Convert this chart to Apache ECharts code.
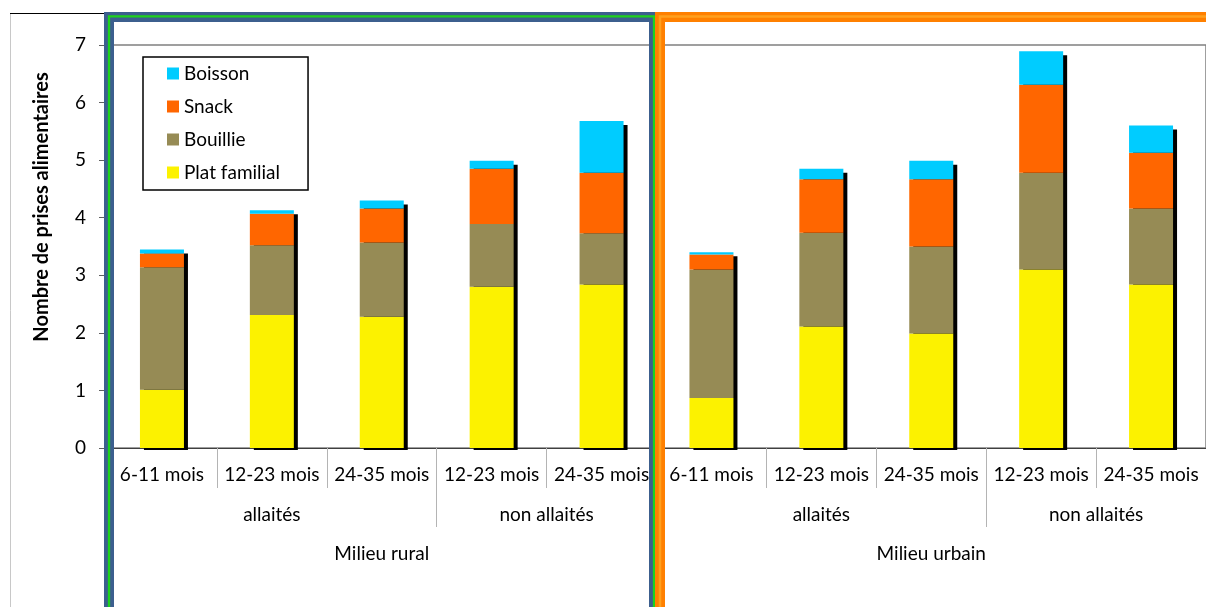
<!DOCTYPE html>
<html>
<head>
<meta charset="utf-8">
<script src="https://cdn.jsdelivr.net/npm/echarts@6/dist/echarts.min.js"></script>
<style>
  html, body { margin: 0; padding: 0; background: #fff; }
  #chart { width: 1206px; height: 607px; }
</style>
</head>
<body>
<div id="chart"></div>
<script>
// Age classes, one per bar
const categories = ['6-11 mois', '12-23 mois', '24-35 mois', '12-23 mois', '24-35 mois',
                    '6-11 mois', '12-23 mois', '24-35 mois', '12-23 mois', '24-35 mois'];
// Breastfeeding groups and their number of bars
const groupLabels = ['allaités', 'non allaités', 'allaités', 'non allaités'];
const groupSizes = [3, 2, 3, 2];
// Living area groups and their number of bars
const areaLabels = ['Milieu rural', 'Milieu urbain'];
const areaSizes = [5, 5];

// Mean number of food intakes per type (stacked from bottom to top)
const platFamilial = [1.01, 2.31, 2.28, 2.80, 2.84, 0.87, 2.11, 1.99, 3.10, 2.84];
const bouillie     = [2.13, 1.21, 1.29, 1.09, 0.89, 2.23, 1.63, 1.51, 1.68, 1.32];
const snack        = [0.24, 0.55, 0.59, 0.96, 1.05, 0.26, 0.93, 1.17, 1.53, 0.97];
const boisson      = [0.07, 0.06, 0.14, 0.14, 0.90, 0.04, 0.18, 0.32, 0.58, 0.47];

const yTicks = [0, 1, 2, 3, 4, 5, 6, 7];
const legendOrder = ['Boisson', 'Snack', 'Bouillie', 'Plat familial'];

const FONT = 'Lato, "Open Sans", sans-serif';
const BAR_W = 44;

// stacked totals, used for the drop shadow behind each bar
const totals = categories.map((_, i) => platFamilial[i] + bouillie[i] + snack[i] + boisson[i]);

// centres and inner boundaries of a grouping, in category units
function groupLayout(sizes) {
  const centers = [], bounds = [];
  let acc = 0;
  sizes.forEach((s, k) => {
    centers.push(acc + s / 2);
    acc += s;
    if (k < sizes.length - 1) bounds.push(acc);
  });
  return { centers, bounds };
}
const grp = groupLayout(groupSizes);
const area = groupLayout(areaSizes);
function labelAt(centers, labels) {
  return v => {
    const k = centers.findIndex(c => Math.abs(c - v) < 1e-6);
    return k >= 0 ? labels[k] : '';
  };
}

const chart = echarts.init(document.getElementById('chart'), null, { renderer: 'canvas' });

const barSeries = (name, data, color) => ({
  name, type: 'bar', stack: 'total', data,
  barWidth: BAR_W, z: 3,
  itemStyle: { color },
  emphasis: { disabled: true }
});

chart.setOption({
  animation: false,
  backgroundColor: '#ffffff',
  grid: {
    left: 107, top: 45, width: 1102, height: 403,
    show: true, borderColor: '#808080', borderWidth: 1.5, backgroundColor: 'transparent'
  },
  legend: {
    data: legendOrder,
    orient: 'vertical',
    left: 143, top: 57,
    icon: 'rect', itemWidth: 12, itemHeight: 12, itemGap: 14,
    padding: [7, 28, 8, 24],
    borderColor: '#000', borderWidth: 1.5, backgroundColor: '#fff',
    textStyle: { fontFamily: FONT, fontSize: 19, color: '#000' },
    selectedMode: false
  },
  xAxis: [
    {
      type: 'category', data: categories, position: 'bottom',
      axisLine: { lineStyle: { color: '#404040', width: 1.2 } },
      axisTick: { show: true, alignWithLabel: false, interval: 0, length: 40,
                  lineStyle: { color: '#b4b4b4' } },
      axisLabel: { interval: 0, margin: 17, fontFamily: FONT, fontSize: 19, color: '#000' },
      splitLine: { show: false }
    },
    {
      type: 'value', min: 0, max: categories.length, position: 'bottom',
      axisLine: { show: false },
      splitLine: { show: false },
      axisTick: { show: true, customValues: grp.bounds, length: 79,
                  lineStyle: { color: '#b4b4b4' } },
      axisLabel: { customValues: grp.centers, formatter: labelAt(grp.centers, groupLabels),
                   margin: 57, fontFamily: FONT, fontSize: 19, color: '#000' }
    },
    {
      type: 'value', min: 0, max: categories.length, position: 'bottom',
      axisLine: { show: false },
      splitLine: { show: false },
      axisTick: { show: true, customValues: area.bounds, length: 170,
                  lineStyle: { color: '#b4b4b4' } },
      axisLabel: { customValues: area.centers, formatter: labelAt(area.centers, areaLabels),
                   margin: 96, fontFamily: FONT, fontSize: 19, color: '#000' }
    }
  ],
  yAxis: {
    type: 'value', min: yTicks[0], max: yTicks[yTicks.length - 1], interval: 1,
    axisLine: { show: false },
    axisTick: { show: true, inside: false, length: 8, lineStyle: { color: '#606060' } },
    axisLabel: { margin: 21, fontFamily: FONT, fontSize: 19, color: '#000',
                 formatter: v => String(v) },
    splitLine: { show: false }
  },
  series: [
    {
      // black drop shadow drawn behind each stacked bar
      name: 'ombre', type: 'custom', z: 1, silent: true,
      data: totals.map((t, i) => [i, t]),
      encode: { x: 0, y: 1 },
      renderItem: (params, api) => {
        const top = api.coord([api.value(0), api.value(1)]);
        const base = api.coord([api.value(0), 0]);
        return {
          type: 'rect',
          shape: { x: top[0] - BAR_W / 2 + 4, y: top[1] + 4, width: BAR_W,
                   height: base[1] - top[1] - 2 },
          style: { fill: '#000' }
        };
      }
    },
    barSeries('Plat familial', platFamilial, '#FCF200'),
    barSeries('Bouillie', bouillie, '#968B55'),
    barSeries('Snack', snack, '#FF6600'),
    barSeries('Boisson', boisson, '#00CCFF')
  ],
  graphic: [
    // outer chart border
    { type: 'line', z: 50, shape: { x1: 10.5, y1: 13.5, x2: 10.5, y2: 620 },
      style: { stroke: '#c8c8c8', lineWidth: 1 } },
    { type: 'line', z: 50, shape: { x1: 10, y1: 13.5, x2: 110, y2: 13.5 },
      style: { stroke: '#000', lineWidth: 1 } },
    // y axis title
    { type: 'text', z: 50, x: 42, y: 207, rotation: Math.PI / 2,
      style: { text: 'Nombre de prises alimentaires', fontFamily: FONT, fontSize: 20,
               fontWeight: 'bold', fill: '#000', align: 'center', verticalAlign: 'middle' } },
    // rural frame
    { type: 'rect', z: 60, shape: { x: 109, y: 17, width: 545, height: 700 },
      style: { fill: 'none', stroke: '#3C5F8E', lineWidth: 10 } },
    { type: 'rect', z: 61, shape: { x: 109, y: 16.3, width: 545, height: 700 },
      style: { fill: 'none', stroke: '#1ED21E', lineWidth: 2.3 } },
    // urban frame
    { type: 'rect', z: 62, shape: { x: 660, y: 17, width: 600, height: 700 },
      style: { fill: 'none', stroke: '#FF8000', lineWidth: 10 } },
    { type: 'rect', z: 63, shape: { x: 660, y: 16.5, width: 600, height: 700 },
      style: { fill: 'none', stroke: '#FFA01E', lineWidth: 2.5 } }
  ]
});
</script>
</body>
</html>
